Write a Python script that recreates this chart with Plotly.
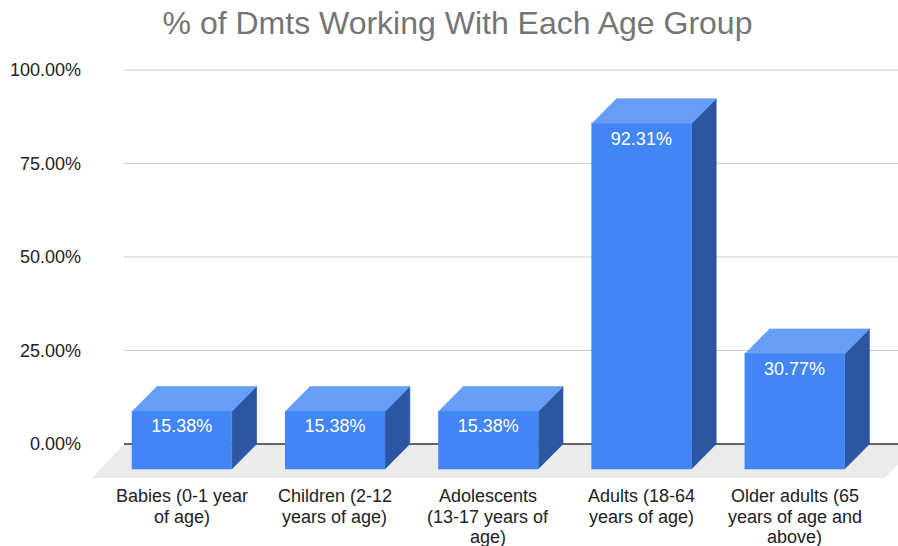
import plotly.graph_objects as go

# Share of DMTs working with each age group (%)
categories = [
    "Babies (0-1 year<br>of age)",
    "Children (2-12<br>years of age)",
    "Adolescents<br>(13-17 years of<br>age)",
    "Adults (18-64<br>years of age)",
    "Older adults (65<br>years of age and<br>above)",
]
values = [15.38, 15.38, 15.38, 92.31, 30.77]
y_ticks = [0, 25, 50, 75, 100]

# Pseudo-3D geometry (x in category units, y in percent units)
HALF_W = 0.3264      # half width of the front face
DX = 0.162           # depth offset to the right
DY = 6.68            # depth offset upwards
FLOOR_DX = 0.209     # floor depth, horizontal
FLOOR_DY = 9.09      # floor depth, vertical
GRID_X0 = -0.377
GRID_X1 = 4.80

FRONT = "#4285F4"
TOP = "#669DF6"
SIDE = "#2A56A2"
FLOOR = "#EBEBEB"
FONT = "Liberation Sans, Arial, sans-serif"

fig = go.Figure()

# floor
fig.add_trace(go.Scatter(
    x=[GRID_X0, GRID_X1, GRID_X1 - FLOOR_DX, GRID_X0 - FLOOR_DX],
    y=[0, 0, -FLOOR_DY, -FLOOR_DY],
    fill="toself", fillcolor=FLOOR, mode="lines", line=dict(width=0),
    hoverinfo="skip", showlegend=False))

# gridlines on the back wall
for t in y_ticks:
    fig.add_trace(go.Scatter(
        x=[GRID_X0, GRID_X1], y=[t, t], mode="lines",
        line=dict(color="#333333" if t == 0 else "#CCCCCC",
                  width=1.5 if t == 0 else 1),
        hoverinfo="skip", showlegend=False))


def faces(i, v):
    l, r = i - HALF_W, i + HALF_W
    front = ([l, r, r, l], [-DY, -DY, v - DY, v - DY])
    top = ([l, r, r + DX, l + DX], [v - DY, v - DY, v, v])
    side = ([r, r + DX, r + DX, r], [-DY, 0, v, v - DY])
    return front, top, side


for i, v in enumerate(values):
    front, top, side = faces(i, v)
    for (xs, ys), col in ((side, SIDE), (top, TOP), (front, FRONT)):
        fig.add_trace(go.Scatter(
            x=xs, y=ys, fill="toself", fillcolor=col, mode="lines",
            line=dict(width=0.6, color=col),
            hoverinfo="skip", showlegend=False))

# value labels inside the front faces
fig.add_trace(go.Scatter(
    x=list(range(len(values))),
    y=[v - DY - 4.4 for v in values],
    mode="text",
    text=[f"{v:.2f}%" for v in values],
    textposition="middle center",
    textfont=dict(family=FONT, size=18, color="#FFFFFF"),
    hoverinfo="skip", showlegend=False))

# category labels, one annotation per line for a tighter line pitch
annotations = []
for i, label in enumerate(categories):
    for k, line in enumerate(label.split("<br>")):
        annotations.append(dict(
            x=i, xref="x", y=0, yref="paper",
            text=line, showarrow=False,
            xanchor="center", yanchor="middle",
            yshift=-16 - 20.5 * k,
            font=dict(family=FONT, size=18, color="#222222")))

fig.update_layout(
    width=898, height=546,
    margin=dict(l=92, r=0, t=55, b=66, autoexpand=False),
    plot_bgcolor="#FFFFFF", paper_bgcolor="#FFFFFF",
    font=dict(family=FONT, size=18, color="#222222"),
    title=dict(
        text="% of Dmts Working With Each Age Group",
        x=457.5 / 898, xanchor="center", xref="container",
        y=1 - 23 / 546, yanchor="middle", yref="container",
        font=dict(family=FONT, size=32, color="#757575")),
    xaxis=dict(
        range=[-0.586, 4.675], automargin=False,
        showticklabels=False,
        showgrid=False, zeroline=False, showline=False, ticks="",
        fixedrange=True),
    yaxis=dict(
        range=[-9.626, 104.0], automargin=False,
        tickvals=y_ticks, ticktext=[f"{t:.2f}%" for t in y_ticks],
        showgrid=False, zeroline=False, showline=False, ticks="",
        ticklabelstandoff=10,
        tickfont=dict(size=18, color="#222222"), fixedrange=True),
    annotations=annotations,
    showlegend=False,
)

fig.write_html("out.html")
